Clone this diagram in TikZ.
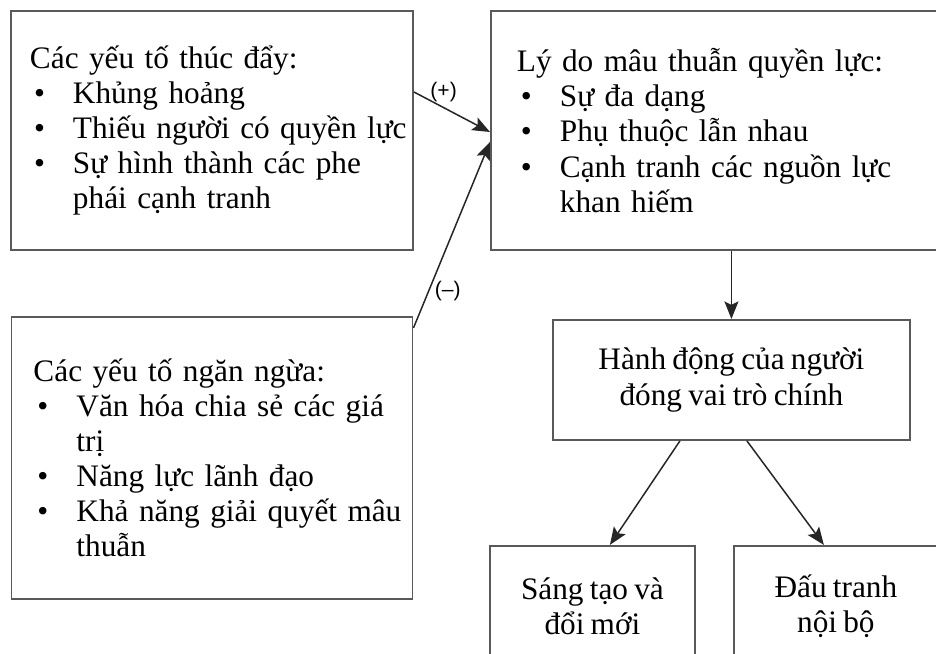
\documentclass[tikz,border=0pt]{standalone}
\usepackage{fontspec}
\setmainfont[WordSpace=0.8]{Liberation Serif}
\newfontfamily\signfont{Liberation Sans}
\usetikzlibrary{arrows.meta, calc, positioning}
\tikzstyle{box} = [rectangle, draw=black!65, line width=1.1pt, inner sep=0pt, font=\fontsize{17.8}{20}\selectfont]
\tikzstyle{listbox} = [box, align=left]
\tikzstyle{textbox} = [box, align=center]
\tikzstyle{arrow} = [draw=black!85, line width=0.85pt, -{Stealth[length=10pt, width=8pt, inset=2pt]}]
\tikzstyle{sign} = [font=\signfont\fontsize{12}{14}\selectfont, inner sep=2pt]
\newcommand{\bitem}[1]{\mbox{\makebox[0.86cm][l]{\hspace{0.08cm}\textbullet}#1}}
\newcommand{\bcont}[1]{\mbox{\hspace{0.86cm}#1}}

\begin{document}
\begin{tikzpicture}
		\useasboundingbox (0,0) rectangle (18.72,-13.08);
		\clip (0,0) rectangle (18.72,-13.08);
		\node (Drivers) [listbox, text width=7.28cm, inner xsep=0.38cm, minimum width=8.04cm, minimum height=4.78cm] at (4.24,-2.61) {Các yếu tố thúc đẩy:\\ \bitem{Khủng hoảng}\\ \bitem{Thiếu người có quyền lực}\\ \bitem{Sự hình thành các phe}\\ \bcont{phái cạnh tranh}};
		\node (Reasons) [listbox, text width=8.58cm, inner xsep=0.52cm, minimum height=4.78cm, right = 1.52cm of Drivers] {Lý do mâu thuẫn quyền lực:\\ \bitem{Sự đa dạng}\\ \bitem{Phụ thuộc lẫn nhau}\\ \bitem{Cạnh tranh các nguồn lực}\\ \bcont{khan hiếm}};
		\node (Barriers) [listbox, text width=7.14cm, inner xsep=0.44cm, minimum height=5.64cm, below = 1.3cm of Drivers] {Các yếu tố ngăn ngừa:\\ \bitem{Văn hóa chia sẻ các giá}\\ \bcont{trị}\\ \bitem{Năng lực lãnh đạo}\\ \bitem{Khả năng giải quyết mâu}\\ \bcont{thuẫn}};
		\node (Actions) [textbox, minimum width=7.14cm, minimum height=2.4cm, below = 1.36cm of Reasons] {Hành động của người\\đóng vai trò chính};
		\node (Innovation) [textbox, minimum width=4.1cm, minimum height=2.4cm, below = 2.08cm of Actions, xshift=-2.78cm] {Sáng tạo và\\đổi mới};
		\node (Conflict) [textbox, minimum width=4.08cm, minimum height=2.4cm, right = 0.74cm of Innovation] {Đấu tranh\\nội bộ};
		
		\draw [arrow] ($(Drivers.east)+(0,0.77)$) -- node[sign, pos=0.39, above=1pt]{(+)} ($(Reasons.west)+(0,-0.03)$);
		\draw [arrow] ($(Barriers.north east)+(0,-0.24)$) -- node[sign, pos=0.2, right=1pt]{(–)} ($(Reasons.west)+(0,-0.23)$);
		\draw [arrow] (Reasons) -- (Actions);
		\draw [arrow] ($(Actions.south)+(-1.03,0)$) -- ($(Innovation.north)+(0.35,0)$);
		\draw [arrow] ($(Actions.south)+(0.31,0)$) -- ($(Conflict.north)+(-0.24,0)$);
\end{tikzpicture}
\end{document}
